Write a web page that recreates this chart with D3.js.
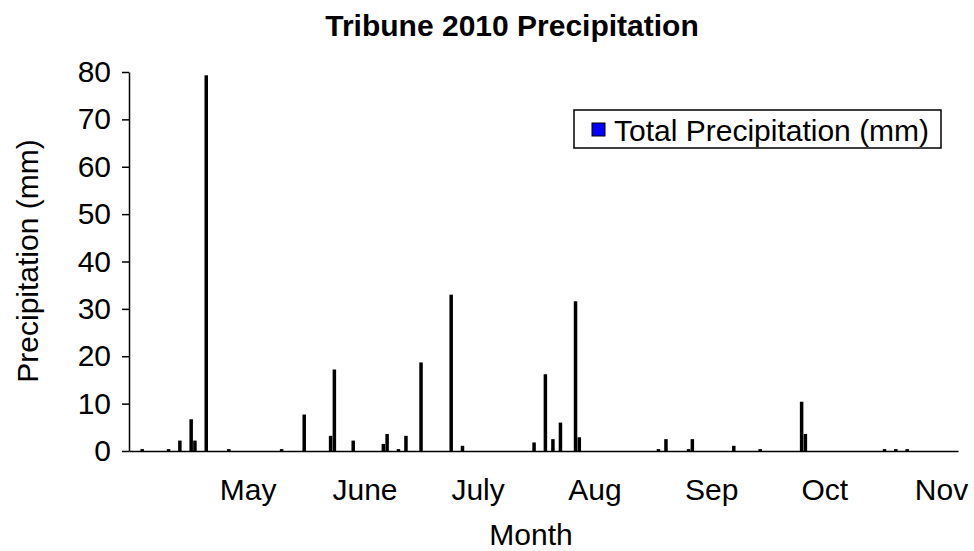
<!DOCTYPE html>
<html>
<head>
<meta charset="utf-8">
<script src="https://cdn.jsdelivr.net/npm/d3@7"></script>
<style>
  body { margin: 0; background: #fff; }
  svg text { font-family: Arial, "Liberation Sans", sans-serif; fill: #000; }
</style>
</head>
<body>
<div id="viz"></div>
<script>
// daily totals (only days with rain)
const rainDates = ["2010-04-03","2010-04-10","2010-04-13","2010-04-16","2010-04-17","2010-04-20",
  "2010-04-26","2010-05-10","2010-05-16","2010-05-23","2010-05-24","2010-05-29",
  "2010-06-06","2010-06-07","2010-06-10","2010-06-12","2010-06-16","2010-06-24","2010-06-27",
  "2010-07-16","2010-07-19","2010-07-21","2010-07-23","2010-07-27","2010-07-28",
  "2010-08-18","2010-08-20","2010-08-26","2010-08-27","2010-09-07","2010-09-14",
  "2010-09-25","2010-09-26","2010-10-17","2010-10-20","2010-10-23"];
const rainMm = [0.4,0.4,2.2,6.7,2.2,79.3,
  0.4,0.4,7.7,3.2,17.2,2.2,
  1.5,3.6,0.4,3.2,18.7,33.0,1.1,
  1.8,16.2,2.5,6.0,31.6,2.9,
  0.4,2.5,0.4,2.5,1.1,0.4,
  10.4,3.6,0.4,0.4,0.4];
const monthStarts = ["2010-05-01","2010-06-01","2010-07-01","2010-08-01","2010-09-01","2010-10-01","2010-11-01"];
const monthLabels = ["May","June","July","Aug","Sep","Oct","Nov"];
const yTicks = [0,10,20,30,40,50,60,70,80];

const width = 974, height = 551;
const margin = {left: 129, right: 16, top: 72, bottom: 100};
const parse = d3.timeParse("%Y-%m-%d");
const rows = rainDates.map((d, i) => ({date: parse(d), mm: rainMm[i]}));

const svg = d3.select("#viz").append("svg")
    .attr("width", width)
    .attr("height", height);

const xScale = d3.scaleTime()
    .domain([new Date(2010, 2, 30, 12), new Date(2010, 10, 5, 12)])
    .range([margin.left, width - margin.right]);
const yScale = d3.scaleLinear()
    .domain([0, 80])
    .range([height - margin.bottom, margin.top]);

// bars
svg.append("g")
  .selectAll("rect")
  .data(rows)
  .join("rect")
    .attr("x", d => xScale(d.date) - 1.75)
    .attr("y", d => yScale(d.mm))
    .attr("width", 3.5)
    .attr("height", d => yScale(0) - yScale(d.mm))
    .attr("fill", "#000");

// x axis: month labels only, no tick marks
const xAxis = d3.axisBottom(xScale)
    .tickValues(monthStarts.map(parse))
    .tickFormat((d, i) => monthLabels[i])
    .tickSize(0)
    .tickSizeOuter(0)
    .tickPadding(28);
const xAxisG = svg.append("g")
    .attr("transform", "translate(0," + yScale(0) + ")")
    .call(xAxis);
xAxisG.select(".domain").attr("stroke", "#000").attr("stroke-width", 1.5);
xAxisG.selectAll("text").style("font-size", "30px");

// y axis
const yAxis = d3.axisLeft(yScale)
    .tickValues(yTicks)
    .tickSize(7)
    .tickSizeOuter(0)
    .tickPadding(11);
const yAxisG = svg.append("g")
    .attr("transform", "translate(" + margin.left + ",0)")
    .call(yAxis);
yAxisG.select(".domain").attr("stroke", "#000").attr("stroke-width", 1.5);
yAxisG.selectAll("line").attr("stroke", "#000").attr("stroke-width", 1.5);
yAxisG.selectAll("text").style("font-size", "30px");

// title and axis labels
svg.append("text")
    .attr("x", 512).attr("y", 36)
    .attr("text-anchor", "middle")
    .style("font-size", "30px").style("font-weight", "bold")
    .text("Tribune 2010 Precipitation");

svg.append("text")
    .attr("transform", "translate(38,261) rotate(-90)")
    .attr("text-anchor", "middle")
    .style("font-size", "30px")
    .text("Precipitation (mm)");

svg.append("text")
    .attr("x", 531).attr("y", 545)
    .attr("text-anchor", "middle")
    .style("font-size", "30px")
    .text("Month");

// legend
const legend = svg.append("g");
legend.append("rect")
    .attr("x", 574).attr("y", 110)
    .attr("width", 367).attr("height", 38)
    .attr("fill", "#fff").attr("stroke", "#000").attr("stroke-width", 1.5);
legend.append("rect")
    .attr("x", 592).attr("y", 123)
    .attr("width", 13).attr("height", 13)
    .attr("fill", "#0000ff").attr("stroke", "#000").attr("stroke-width", 1);
legend.append("text")
    .attr("x", 614).attr("y", 141)
    .style("font-size", "30px")
    .text("Total Precipitation (mm)");
</script>
</body>
</html>
